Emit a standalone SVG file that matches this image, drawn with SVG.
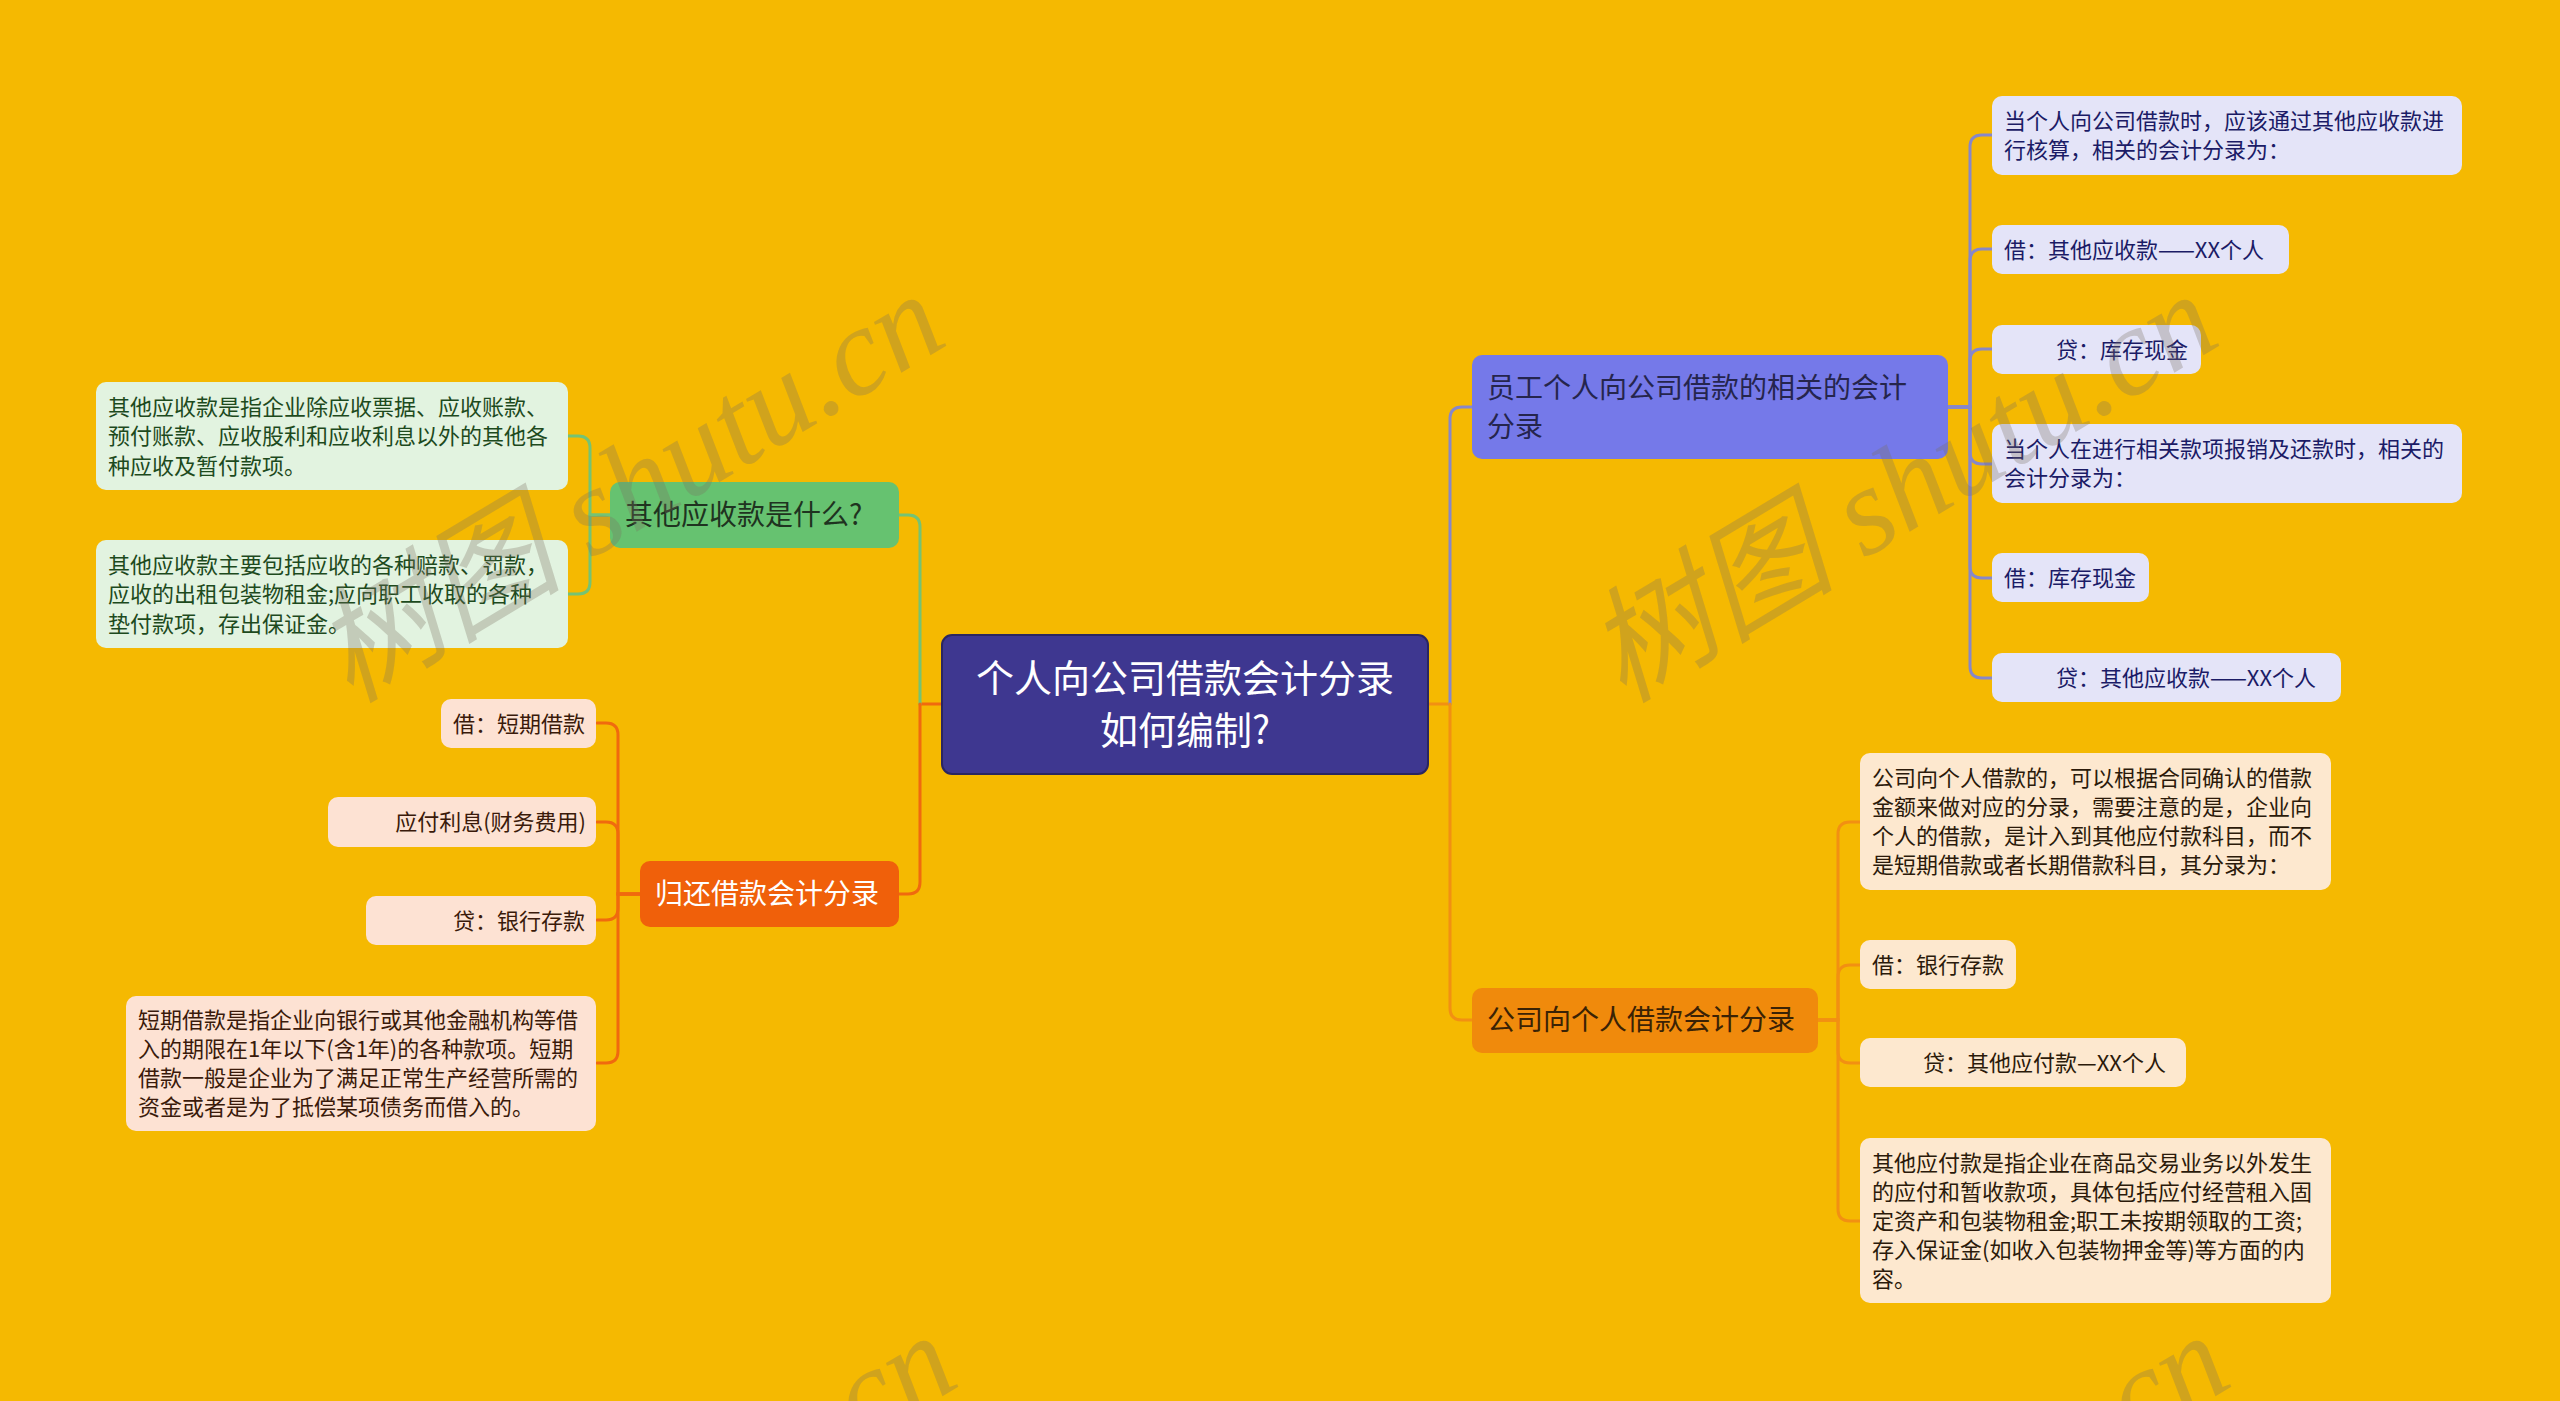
<svg xmlns="http://www.w3.org/2000/svg" width="2560" height="1401" viewBox="0 0 2560 1401">
<style>
text{font-family:"Noto Sans CJK SC","Noto Sans",sans-serif}
.leaf{font-size:22px}
.node{font-size:28px}
.root{font-size:38px;fill:#ffffff}
.wm{font-family:"Liberation Serif","Noto Sans CJK SC",serif;font-style:italic;font-size:125px;fill:#7a7060;fill-opacity:0.3}
.c{fill:none;stroke-width:3;stroke-linecap:round}
.cg{stroke:#74c375}.co{stroke:#f06a0e}.cp{stroke:#8787c9}.cr{stroke:#f29012}
.gl{fill:#e2f3e0}.gt{fill:#1d4a1d}
.pl{fill:#fde2d3}.pt{fill:#3a1a0a}
.ll{fill:#e4e4f8}.lt{fill:#1b1b66}
.cl{fill:#fde8cf}.ct{fill:#2b1a0a}
</style>
<rect x="0" y="0" width="2560" height="1401" fill="#f5b901"/>
<g id="connectors">
<path class="c co" d="M942,704 H920"/>
<path class="c cg" d="M920,704 V527 Q920,515 908,515 H899"/>
<path class="c co" d="M920,704 V882 Q920,894 908,894 H899"/>
<path class="c cg" d="M610,515 H590 V448 Q590,436 578,436 H568"/>
<path class="c cg" d="M610,515 H590 V582 Q590,594 578,594 H568"/>
<path class="c co" d="M640,894 H618 V735 Q618,723 606,723 H597"/>
<path class="c co" d="M640,894 H618 V834 Q618,822 606,822 H597"/>
<path class="c co" d="M640,894 H618 V908 Q618,920 606,920 H597"/>
<path class="c co" d="M640,894 H618 V1051 Q618,1063 606,1063 H597"/>
<path class="c cr" d="M1428,704 H1450"/>
<path class="c cp" d="M1450,704 V419 Q1450,407 1462,407 H1472"/>
<path class="c cr" d="M1450,704 V1008 Q1450,1020 1462,1020 H1472"/>
<path class="c cp" d="M1948,407 H1970 V147 Q1970,135 1982,135 H1992"/>
<path class="c cp" d="M1948,407 H1970 V261 Q1970,249 1982,249 H1992"/>
<path class="c cp" d="M1948,407 H1970 V361 Q1970,349 1982,349 H1992"/>
<path class="c cp" d="M1948,407 H1970 V452 Q1970,464 1982,464 H1992"/>
<path class="c cp" d="M1948,407 H1970 V566 Q1970,578 1982,578 H1992"/>
<path class="c cp" d="M1948,407 H1970 V666 Q1970,678 1982,678 H1992"/>
<path class="c cr" d="M1818,1020 H1838 V834 Q1838,822 1850,822 H1860"/>
<path class="c cr" d="M1818,1020 H1838 V977 Q1838,965 1850,965 H1860"/>
<path class="c cr" d="M1818,1020 H1838 V1051 Q1838,1063 1850,1063 H1860"/>
<path class="c cr" d="M1818,1020 H1838 V1209 Q1838,1221 1850,1221 H1860"/>
</g>
<g id="root">
<rect x="942" y="635" width="486" height="139" rx="10" fill="#3e3790" stroke="#2b2660" stroke-width="2"/>
<text class="root" x="1185" y="692" text-anchor="middle">个人向公司借款会计分录</text>
<text class="root" x="1185" y="744" text-anchor="middle">如何编制?</text>
</g>
<g id="n-qita">
<rect x="610" y="482" width="289" height="66" rx="10" fill="#66c270"/>
<text class="node" x="625" y="525" fill="#1f3320">其他应收款是什么?</text>
</g>
<g id="n-qita-1">
<rect class="gl" x="96" y="382" width="472" height="108" rx="10"/>
<text class="leaf gt" x="108" y="414.5">其他应收款是指企业除应收票据、应收账款、</text>
<text class="leaf gt" x="108" y="444">预付账款、应收股利和应收利息以外的其他各</text>
<text class="leaf gt" x="108" y="473.5">种应收及暂付款项。</text>
</g>
<g id="n-qita-2">
<rect class="gl" x="96" y="540" width="472" height="108" rx="10"/>
<text class="leaf gt" x="108" y="572.5">其他应收款主要包括应收的各种赔款、罚款，</text>
<text class="leaf gt" x="108" y="602">应收的出租包装物租金;应向职工收取的各种</text>
<text class="leaf gt" x="108" y="631.5">垫付款项，存出保证金。</text>
</g>
<g id="n-guihuan">
<rect x="640" y="861" width="259" height="66" rx="10" fill="#f0600a"/>
<text class="node" x="655" y="904" fill="#ffffff">归还借款会计分录</text>
</g>
<g id="n-guihuan-1">
<rect class="pl" x="441" y="699" width="155" height="49" rx="10"/>
<text class="leaf pt" x="585" y="731.5" text-anchor="end">借：短期借款</text>
</g>
<g id="n-guihuan-2">
<rect class="pl" x="328" y="797" width="268" height="50" rx="10"/>
<text class="leaf pt" x="586" y="830" text-anchor="end">应付利息(财务费用)</text>
</g>
<g id="n-guihuan-3">
<rect class="pl" x="366" y="896" width="230" height="49" rx="10"/>
<text class="leaf pt" x="585" y="928.5" text-anchor="end">贷：银行存款</text>
</g>
<g id="n-guihuan-4">
<rect class="pl" x="126" y="996" width="470" height="135" rx="10"/>
<text class="leaf pt" x="138" y="1028">短期借款是指企业向银行或其他金融机构等借</text>
<text class="leaf pt" x="138" y="1057">入的期限在1年以下(含1年)的各种款项。短期</text>
<text class="leaf pt" x="138" y="1086">借款一般是企业为了满足正常生产经营所需的</text>
<text class="leaf pt" x="138" y="1115">资金或者是为了抵偿某项债务而借入的。</text>
</g>
<g id="n-yuangong">
<rect x="1472" y="355" width="476" height="104" rx="10" fill="#7579e9"/>
<text class="node" x="1487" y="398" fill="#25254d">员工个人向公司借款的相关的会计</text>
<text class="node" x="1487" y="437" fill="#25254d">分录</text>
</g>
<g id="n-yuangong-1">
<rect class="ll" x="1992" y="96" width="470" height="79" rx="10"/>
<text class="leaf lt" x="2004" y="129">当个人向公司借款时，应该通过其他应收款进</text>
<text class="leaf lt" x="2004" y="158">行核算，相关的会计分录为：</text>
</g>
<g id="n-yuangong-2">
<rect class="ll" x="1992" y="225" width="297" height="49" rx="10"/>
<text class="leaf lt" x="2004" y="257.5">借：其他应收款——XX个人</text>
</g>
<g id="n-yuangong-3">
<rect class="ll" x="1992" y="325" width="209" height="49" rx="10"/>
<text class="leaf lt" x="2056" y="357.5">贷：库存现金</text>
</g>
<g id="n-yuangong-4">
<rect class="ll" x="1992" y="424" width="470" height="79" rx="10"/>
<text class="leaf lt" x="2004" y="457">当个人在进行相关款项报销及还款时，相关的</text>
<text class="leaf lt" x="2004" y="486">会计分录为：</text>
</g>
<g id="n-yuangong-5">
<rect class="ll" x="1992" y="553" width="157" height="49" rx="10"/>
<text class="leaf lt" x="2004" y="585.5">借：库存现金</text>
</g>
<g id="n-yuangong-6">
<rect class="ll" x="1992" y="653" width="349" height="49" rx="10"/>
<text class="leaf lt" x="2056" y="685.5">贷：其他应收款——XX个人</text>
</g>
<g id="n-gongsi">
<rect x="1472" y="988" width="346" height="65" rx="10" fill="#f08a0c"/>
<text class="node" x="1487" y="1030" fill="#3a2205">公司向个人借款会计分录</text>
</g>
<g id="n-gongsi-1">
<rect class="cl" x="1860" y="753" width="471" height="137" rx="10"/>
<text class="leaf ct" x="1872" y="786">公司向个人借款的，可以根据合同确认的借款</text>
<text class="leaf ct" x="1872" y="815">金额来做对应的分录，需要注意的是，企业向</text>
<text class="leaf ct" x="1872" y="844">个人的借款，是计入到其他应付款科目，而不</text>
<text class="leaf ct" x="1872" y="873">是短期借款或者长期借款科目，其分录为：</text>
</g>
<g id="n-gongsi-2">
<rect class="cl" x="1860" y="940" width="156" height="49" rx="10"/>
<text class="leaf ct" x="1872" y="972.5">借：银行存款</text>
</g>
<g id="n-gongsi-3">
<rect class="cl" x="1860" y="1038" width="326" height="49" rx="10"/>
<text class="leaf ct" x="1923" y="1070.5">贷：其他应付款—XX个人</text>
</g>
<g id="n-gongsi-4">
<rect class="cl" x="1860" y="1138" width="471" height="165" rx="10"/>
<text class="leaf ct" x="1872" y="1170.5">其他应付款是指企业在商品交易业务以外发生</text>
<text class="leaf ct" x="1872" y="1199.5">的应付和暂收款项，具体包括应付经营租入固</text>
<text class="leaf ct" x="1872" y="1228.5">定资产和包装物租金;职工未按期领取的工资;</text>
<text class="leaf ct" x="1872" y="1257.5">存入保证金(如收入包装物押金等)等方面的内</text>
<text class="leaf ct" x="1872" y="1286.5">容。</text>
</g>
<g id="watermarks">
<text class="wm" transform="translate(350,704) rotate(-31)">树图 shutu.cn</text>
<text class="wm" transform="translate(1623,704) rotate(-31)">树图 shutu.cn</text>
<text class="wm" transform="translate(362,1745) rotate(-31)">树图 shutu.cn</text>
<text class="wm" transform="translate(1635,1745) rotate(-31)">树图 shutu.cn</text>
</g>
</svg>
